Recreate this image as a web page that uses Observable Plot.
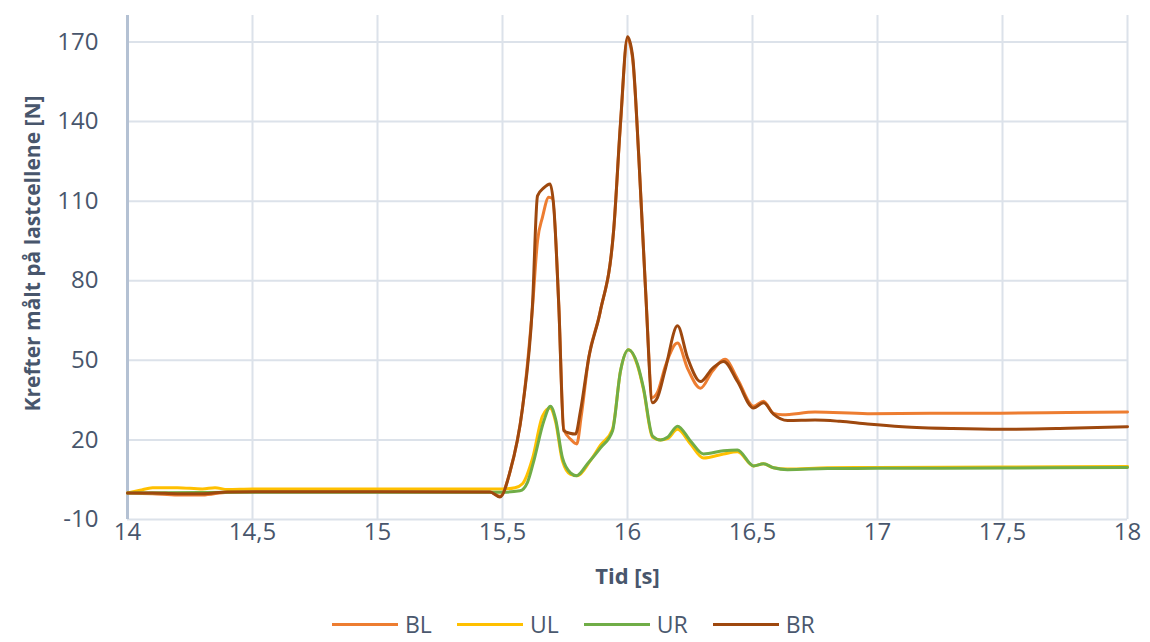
<!DOCTYPE html>
<html>
<head>
<meta charset="utf-8">
<script src="https://cdn.jsdelivr.net/npm/d3@7"></script>
<script src="https://cdn.jsdelivr.net/npm/@observablehq/plot@0.6"></script>
<style>
  body { margin: 0; background: #fff; }
  #wrap { position: relative; width: 1150px; height: 642px; overflow: hidden; font-family: "Open Sans", sans-serif; }
  g[aria-label="y-axis label"] text { font-weight: 700; font-size: 21px; }
  g[aria-label="x-axis label"] text { font-weight: 700; font-size: 22px; }
  #legend { position: absolute; top: 610px; left: 332px; display: flex; align-items: center; font-size: 23px; line-height: 28px; color: #4a586e; }
  .item { display: flex; align-items: center; margin-right: 25px; }
  .sw { width: 66px; height: 3px; margin-right: 7px; }
</style>
</head>
<body>
<div id="wrap"><div id="chart"></div><div id="legend"></div></div>
<script>
const seriesNames = ["BL", "UL", "UR", "BR"];
const seriesColors = ["#ED7D31", "#FFC000", "#70AD47", "#9E480E"];
const xTicks = [14, 14.5, 15, 15.5, 16, 16.5, 17, 17.5, 18];
const yTicks = [-10, 20, 50, 80, 110, 140, 170];
const xDomain = [14, 18];
const yDomain = [-10, 180];

const blT = [14.0,14.1,14.2,14.3,14.4,14.6,15.0,15.45,15.49,15.53,15.58,15.62,15.64,15.66,15.685,15.7,15.725,15.745,15.775,15.797,15.815,15.845,15.89,15.945,15.972,16.0,16.02,16.045,16.072,16.1,16.12,16.152,16.2,16.24,16.292,16.34,16.39,16.44,16.504,16.544,16.584,16.62,16.75,16.96,17.22,17.49,17.76,18.0];
const blV = [0,-0.3,-0.8,-0.8,0.3,0.5,0.5,0.4,-1.2,8,32,70,95,104,111.5,111,71,24,20,18.5,29,51,68,99.5,139,171,164,127,77,36,38,48,56.5,47,39.5,46,50.4,43,32.7,34.6,30,29.5,30.5,29.9,30.1,30.1,30.3,30.5];

const ulT = [14.0,14.05,14.1,14.2,14.3,14.35,14.4,14.5,15.0,15.5,15.55,15.58,15.62,15.66,15.69,15.712,15.74,15.772,15.8,15.85,15.892,15.94,15.972,16.004,16.04,16.064,16.1,16.132,16.16,16.2,16.252,16.304,16.384,16.44,16.504,16.544,16.584,16.64,16.8,17.0,17.5,18.0];
const ulV = [0,1,2,2,1.5,2,1.3,1.5,1.5,1.5,2,3.5,13,29,32,27,12,7,6.5,12,18,24,46,54,48,39,21,20,20.5,24,18.5,13.2,14.7,15.5,10.2,11,9.5,9,9.5,9.6,9.8,10];

const urT = [14.0,14.5,15.0,15.5,15.57,15.6,15.625,15.665,15.692,15.712,15.74,15.772,15.796,15.84,15.892,15.94,15.972,16.004,16.04,16.064,16.1,16.132,16.16,16.2,16.252,16.304,16.384,16.44,16.504,16.544,16.584,16.64,16.8,17.0,17.5,18.0];
const urV = [0,0.3,0.3,0.3,0.8,4,12,27,32.7,28,13.2,7.6,6.5,11,17,23.4,46,54,48.5,39.5,21.5,20,21,25.2,19.6,14.7,15.9,16.2,10.2,11,9.5,8.8,9.2,9.3,9.4,9.6];

const brT = [14.0,14.1,14.2,14.3,14.4,14.6,15.0,15.45,15.49,15.53,15.58,15.62,15.64,15.665,15.69,15.705,15.725,15.745,15.77,15.792,15.812,15.845,15.89,15.945,15.972,16.0,16.02,16.045,16.072,16.1,16.12,16.152,16.2,16.24,16.292,16.34,16.385,16.44,16.504,16.544,16.584,16.64,16.75,16.85,16.96,17.1,17.3,17.5,17.76,18.0];
const brV = [0,0,-0.3,-0.3,0.4,0.5,0.5,0.4,-1.5,8,32,71,112,115,116.5,108,71,23.5,22.5,22.2,31,51,68,99.5,139.6,172,165,127,77,34,36,47,63,51,42,47,49.6,42,32,34,29.7,27.3,27.5,27,26,25,24.3,24,24.4,25];

const seriesT = [blT, ulT, urT, brT];
const seriesV = [blV, ulV, urV, brV];
const rows = [];
seriesNames.forEach((name, i) => {
  seriesT[i].forEach((t, j) => rows.push({series: name, t, v: seriesV[i][j]}));
});

const fmtX = d => String(d).replace(".", ",");
const fmtY = d => String(d);

const chart = Plot.plot({
  width: 1150,
  height: 600,
  marginLeft: 127,
  marginRight: 23,
  marginTop: 15,
  marginBottom: 81,
  style: {fontFamily: "Open Sans, sans-serif", fontSize: "24px", color: "#48566c", background: "#fff"},
  x: {domain: xDomain, ticks: xTicks, tickFormat: fmtX},
  y: {domain: yDomain, ticks: yTicks, tickFormat: fmtY},
  color: {domain: seriesNames, range: seriesColors},
  marks: [
    Plot.gridX(xTicks, {stroke: "#dce2ea", strokeOpacity: 1, strokeWidth: 2}),
    Plot.gridY(yTicks, {stroke: "#dce2ea", strokeOpacity: 1, strokeWidth: 2}),
    Plot.ruleX([xDomain[0]], {stroke: "#b4c1d3", strokeWidth: 3}),
    Plot.axisX({ticks: xTicks, tickSize: 0, tickPadding: 3, tickFormat: fmtX, label: "Tid [s]", labelAnchor: "center", labelArrow: "none", labelOffset: 64}),
    Plot.axisY({ticks: yTicks, tickSize: 0, tickPadding: 29, tickFormat: fmtY, label: "Krefter målt på lastcellene [N]", labelAnchor: "center", labelArrow: "none", labelOffset: 102}),
    Plot.line(rows, {x: "t", y: "v", z: "series", stroke: "series", strokeWidth: 3, curve: "monotone-x"})
  ]
});
document.getElementById("chart").appendChild(chart);
const yl = chart.querySelector('g[aria-label="y-axis label"] text');
if (yl) yl.setAttribute("dx", "14");

const legend = document.getElementById("legend");
seriesNames.forEach((name, i) => {
  const item = document.createElement("div");
  item.className = "item";
  const sw = document.createElement("div");
  sw.className = "sw";
  sw.style.background = seriesColors[i];
  const lab = document.createElement("span");
  lab.textContent = name;
  item.appendChild(sw);
  item.appendChild(lab);
  legend.appendChild(item);
});
</script>
</body>
</html>
